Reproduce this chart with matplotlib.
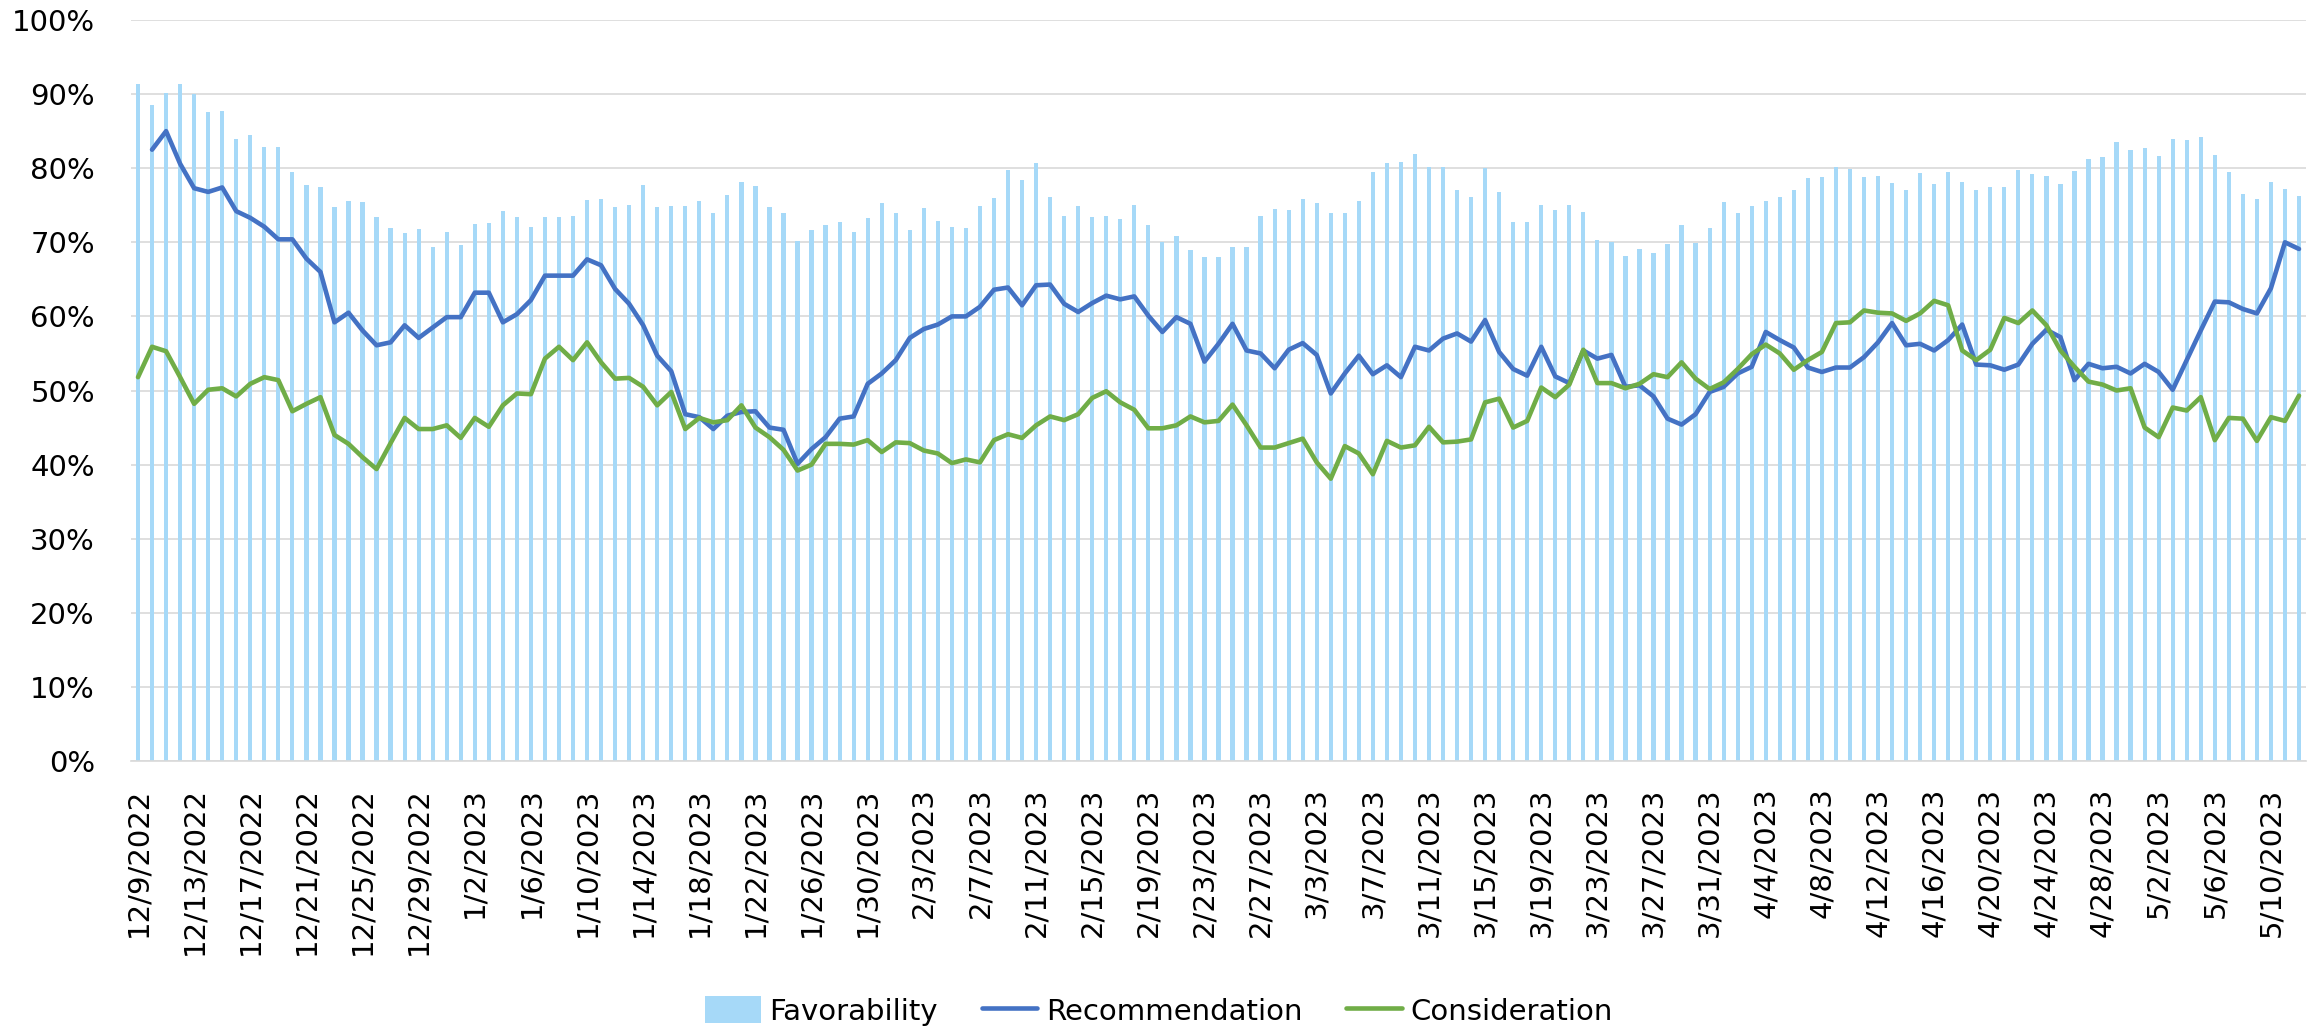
import matplotlib.pyplot as plt
import numpy as np
import pandas as pd

# daily dates 12/9/2022 .. 5/12/2023
dates = pd.date_range('2022-12-09', '2023-05-12', freq='D')
labels = [f"{d.month}/{d.day}/{d.year}" for d in dates]

favorability = [
    91.4, 88.5, 90.1, 91.4, 90.0, 87.6, 87.7, 83.9, 84.5, 82.8, 82.8, 79.5, 77.8,
    77.4, 74.7, 75.6, 75.5, 73.4, 71.9, 71.3, 71.8, 69.3, 71.4, 69.7, 72.5, 72.6,
    74.2, 73.4, 72.0, 73.4, 73.4, 73.6, 75.7, 75.8, 74.7, 75.0, 77.7, 74.7, 74.9,
    74.9, 75.6, 74.0, 76.4, 78.2, 77.6, 74.7, 73.9, 70.2, 71.7, 72.4, 72.8, 71.4,
    73.3, 75.3, 73.9, 71.7, 74.6, 72.9, 72.0, 71.9, 74.9, 76.0, 79.7, 78.4, 80.7,
    76.1, 73.5, 74.9, 73.4, 73.5, 73.2, 75.0, 72.4, 70.1, 70.9, 69.0, 68.0, 68.0,
    69.4, 69.4, 73.5, 74.5, 74.4, 75.9, 75.3, 74.0, 74.0, 75.6, 79.5, 80.7, 80.9,
    81.9, 80.1, 80.1, 77.1, 76.1, 80.0, 76.8, 72.8, 72.7, 75.1, 74.3, 75.1,
    74.1, 70.3, 70.0, 68.2, 69.1, 68.5, 69.8, 72.3, 69.9, 71.9, 75.5, 74.0, 74.9,
    75.6, 76.1, 77.0, 78.7, 78.8, 80.2, 79.9, 78.8, 79.0, 78.0, 77.1, 79.3, 77.9,
    79.5, 78.2, 77.0, 77.4, 77.4, 79.7, 79.2, 78.9, 77.9, 79.6, 81.2, 81.5, 83.6,
    82.5, 82.7, 81.6, 83.9, 83.8, 84.2, 81.8, 79.5, 76.5, 75.9, 78.2, 77.2, 76.2,
]

recommendation = [
    np.nan, 82.5, 85.0, 80.6, 77.3, 76.8, 77.4, 74.2, 73.3, 72.1, 70.4, 70.4, 67.8,
    66.0, 59.2, 60.5, 58.1, 56.1, 56.5, 58.8, 57.1, 58.5, 59.9, 59.9, 63.2, 63.2,
    59.2, 60.3, 62.2, 65.5, 65.5, 65.5, 67.7, 66.9, 63.7, 61.7, 58.8, 54.7, 52.6,
    46.8, 46.4, 44.8, 46.6, 47.1, 47.2, 45.0, 44.7, 40.1, 42.1, 43.7, 46.2, 46.5,
    50.9, 52.3, 54.1, 57.1, 58.3, 58.9, 60.0, 60.0, 61.3, 63.6, 63.9, 61.5, 64.2,
    64.3, 61.7, 60.6, 61.8, 62.8, 62.3, 62.7, 60.1, 57.9, 59.9, 59.0, 53.9, 56.3,
    59.0, 55.4, 55.0, 53.0, 55.5, 56.4, 54.8, 49.6, 52.3, 54.7, 52.2, 53.4, 51.8,
    55.9, 55.4, 57.0, 57.7, 56.6, 59.5, 55.2, 52.9, 52.0, 55.9, 51.9, 51.0,
    55.4, 54.3, 54.8, 50.5, 50.7, 49.2, 46.2, 45.4, 46.8, 49.8, 50.5, 52.3, 53.2,
    57.9, 56.8, 55.8, 53.1, 52.5, 53.1, 53.1, 54.5, 56.5, 59.1, 56.1, 56.3, 55.4,
    56.8, 58.9, 53.5, 53.4, 52.8, 53.5, 56.3, 58.2, 57.2, 51.4, 53.6, 53.0, 53.2,
    52.3, 53.6, 52.5, 50.1, 54.1, 58.1, 62.0, 61.9, 61.0, 60.4, 63.8, 70.0, 69.1,
]

consideration = [
    51.8, 55.9, 55.3, 51.8, 48.2, 50.1, 50.3, 49.2, 50.9, 51.8, 51.4, 47.2, 48.2,
    49.1, 44.0, 42.8, 41.0, 39.4, 42.9, 46.3, 44.8, 44.8, 45.3, 43.6, 46.3, 45.1,
    48.0, 49.6, 49.5, 54.3, 55.9, 54.1, 56.5, 53.8, 51.6, 51.7, 50.5, 48.0, 49.8,
    44.8, 46.3, 45.7, 46.0, 48.0, 45.0, 43.7, 42.0, 39.2, 40.0, 42.8, 42.8, 42.7,
    43.3, 41.7, 43.0, 42.9, 41.9, 41.5, 40.2, 40.7, 40.3, 43.3, 44.1, 43.6, 45.3,
    46.5, 46.0, 46.8, 49.0, 49.9, 48.4, 47.4, 44.9, 44.9, 45.3, 46.5, 45.7, 45.9,
    48.1, 45.3, 42.3, 42.3, 42.9, 43.5, 40.3, 38.1, 42.5, 41.5, 38.7, 43.2, 42.3,
    42.6, 45.1, 43.0, 43.1, 43.4, 48.4, 48.9, 45.0, 45.9, 50.4, 49.1, 50.8,
    55.5, 51.0, 51.0, 50.3, 50.9, 52.2, 51.8, 53.8, 51.6, 50.2, 51.1, 52.9, 54.9,
    56.2, 55.0, 52.8, 54.1, 55.2, 59.1, 59.2, 60.8, 60.5, 60.4, 59.4, 60.4, 62.1,
    61.5, 55.4, 54.1, 55.5, 59.8, 59.1, 60.8, 58.8, 55.4, 53.2, 51.2, 50.8, 50.0,
    50.3, 45.0, 43.7, 47.7, 47.3, 49.1, 43.3, 46.3, 46.2, 43.2, 46.4, 45.9, 49.3,
]

plt.rcParams['font.family'] = ['DejaVu Sans']

fig = plt.figure(figsize=(23.18, 10.30), dpi=100)
ax = fig.add_axes([131 / 2318, 1 - 761 / 1030, (2306 - 131) / 2318, (761 - 20) / 1030])

x = np.arange(len(labels))
fav = np.array(favorability) / 100
rec = np.array(recommendation) / 100
con = np.array(consideration) / 100

bars = ax.bar(x, fav, width=0.3, color='#A6D9F8', label='Favorability', zorder=2)
l1, = ax.plot(x, rec, color='#4472C4', lw=3.3, label='Recommendation', zorder=3,
              solid_joinstyle='round', solid_capstyle='round')
l2, = ax.plot(x, con, color='#70AD47', lw=3.3, label='Consideration', zorder=3,
              solid_joinstyle='round', solid_capstyle='round')

ax.set_xlim(-0.5, len(x) - 0.5)
ax.set_ylim(0, 1)
ax.set_yticks(np.arange(0, 1.01, 0.1))
ax.set_yticklabels([f"{int(round(v * 100))}%" for v in np.arange(0, 1.01, 0.1)])
ax.set_xticks(x[::4])
ax.set_xticklabels(labels[::4], rotation=90)
ax.tick_params(axis='y', length=0, pad=26, labelsize=21)
ax.tick_params(axis='x', length=0, pad=19, labelsize=21)

ax.grid(True, axis='y', color='#D9D9D9', lw=1.2, zorder=0)
for s in ['top', 'right', 'left']:
    ax.spines[s].set_visible(False)
ax.spines['bottom'].set_color('#D9D9D9')
ax.spines['bottom'].set_linewidth(1.2)

fig.legend(handles=[bars, l1, l2], loc='center', bbox_to_anchor=(0.5, 1 - 1011 / 1030),
           ncol=3, frameon=False, fontsize=21, handlelength=1.9, handleheight=1.0,
           columnspacing=1.5, handletextpad=0.3)

fig.savefig('out.png', dpi=100)
